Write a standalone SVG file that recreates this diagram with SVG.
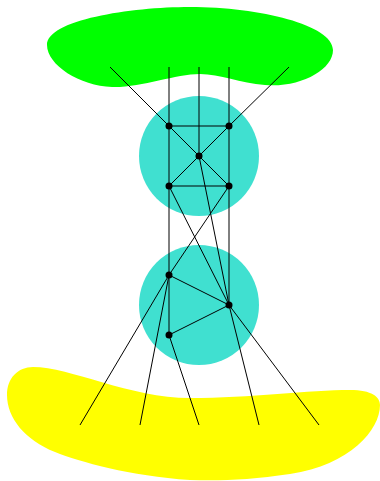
<svg xmlns="http://www.w3.org/2000/svg" width="380" height="481" viewBox="0 0 380 481">
<style>
.e{stroke:#000;stroke-width:1;fill:none}
.n{fill:#000}
.c{fill:#40e0d0}
</style>
<rect width="380" height="481" fill="#fff"/>
<g id="top-blob"><path d="M 47,45 C 47,20 130,7 190,7 C 260,7 333,25 333,50 C 333,70 300,88 265,85 C 240,83 220,74 200,74 C 175,74 140,88 112,87 C 80,86 47,65 47,45 Z" fill="#00ff00"/></g>
<g id="bottom-blob"><path d="M 7,395 C 7,378 18,367 33,367 C 70,367 130,398 190,398 C 250,398 310,390 350,390 C 372,390 380,397 380,405 C 380,430 350,465 290,474 C 250,480 220,481 190,480 C 130,476 80,462 55,452 C 25,440 7,418 7,395 Z" fill="#ffff00"/></g>
<g id="cluster-top"><circle class="c" cx="199" cy="156" r="60"/></g>
<g id="cluster-bottom"><circle class="c" cx="199" cy="305" r="60"/></g>
<g id="connectors">
<line class="e" x1="110" y1="67" x2="169" y2="126"/>
<line class="e" x1="169" y1="67" x2="169" y2="126"/>
<line class="e" x1="199" y1="67" x2="199" y2="156"/>
<line class="e" x1="229" y1="67" x2="229" y2="126"/>
<line class="e" x1="289" y1="67" x2="229" y2="126"/>
<line class="e" x1="169" y1="126" x2="229" y2="126"/>
<line class="e" x1="169" y1="126" x2="199" y2="156"/>
<line class="e" x1="229" y1="126" x2="199" y2="156"/>
<line class="e" x1="199" y1="156" x2="169" y2="186"/>
<line class="e" x1="199" y1="156" x2="229" y2="186"/>
<line class="e" x1="169" y1="186" x2="229" y2="186"/>
<line class="e" x1="169" y1="126" x2="169" y2="186"/>
<line class="e" x1="229" y1="126" x2="229" y2="186"/>
<line class="e" x1="199" y1="156" x2="229" y2="305"/>
<line class="e" x1="169" y1="186" x2="229" y2="305"/>
<line class="e" x1="229" y1="186" x2="169" y2="275"/>
<line class="e" x1="169" y1="186" x2="169" y2="275"/>
<line class="e" x1="229" y1="186" x2="229" y2="305"/>
<line class="e" x1="169" y1="275" x2="229" y2="305"/>
<line class="e" x1="229" y1="305" x2="169" y2="335"/>
<line class="e" x1="169" y1="275" x2="169" y2="335"/>
<line class="e" x1="169" y1="275" x2="80" y2="425"/>
<line class="e" x1="169" y1="275" x2="140" y2="425"/>
<line class="e" x1="169" y1="335" x2="199" y2="425"/>
<line class="e" x1="229" y1="305" x2="259" y2="425"/>
<line class="e" x1="229" y1="305" x2="319" y2="425"/>
</g>
<g id="n1"><circle class="n" cx="169" cy="126" r="3.5"/></g>
<g id="n2"><circle class="n" cx="229" cy="126" r="3.5"/></g>
<g id="n3"><circle class="n" cx="199" cy="156" r="3.5"/></g>
<g id="n4"><circle class="n" cx="169" cy="186" r="3.5"/></g>
<g id="n5"><circle class="n" cx="229" cy="186" r="3.5"/></g>
<g id="n6"><circle class="n" cx="169" cy="275" r="3.5"/></g>
<g id="n7"><circle class="n" cx="229" cy="305" r="3.5"/></g>
<g id="n8"><circle class="n" cx="169" cy="335" r="3.5"/></g>
</svg>
